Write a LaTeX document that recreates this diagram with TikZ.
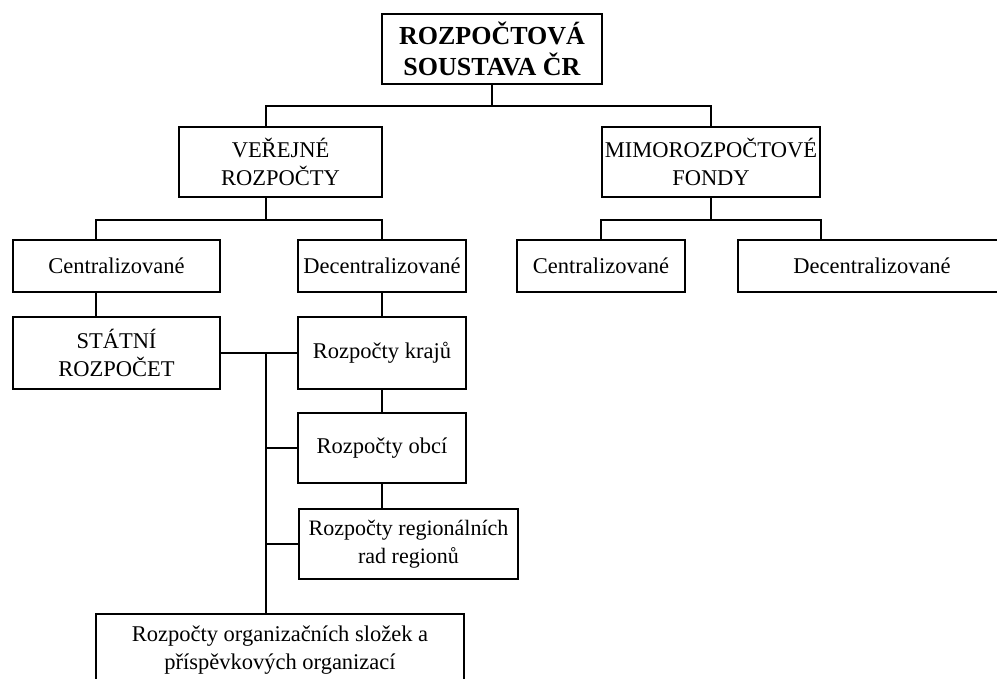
\documentclass[tikz,border=0pt]{standalone}
\usepackage{fontspec}
\setmainfont{Liberation Serif}
\tikzset{
  blok/.style={draw, line width=1.3pt, inner sep=0pt, align=center,
    font=\fontsize{22.5}{28}\selectfont},
  hlavni/.style={blok, font=\fontsize{26}{31}\bfseries\selectfont},
  spoj/.style={line width=1.3pt},
}
\begin{document}
\begin{tikzpicture}[x=1pt, y=-1pt]
  \useasboundingbox (0,0) rectangle (997,679);
  \clip (0,0) rectangle (997,679);
  % uzly
  \node[hlavni, minimum width=220pt, minimum height=70pt] (soustava) at (492,49) {ROZPOČTOVÁ\\SOUSTAVA ČR};
  \node[blok, minimum width=203pt, minimum height=70pt] (verejne) at (280.5,162) {VEŘEJNÉ\\ROZPOČTY};
  \node[blok, minimum width=218pt, minimum height=70pt] (mimo) at (711,162) {MIMOROZPOČTOVÉ\\FONDY};
  \node[blok, minimum width=207pt, minimum height=52pt] (vcent) at (116.5,266) {Centralizované};
  \node[blok, minimum width=168pt, minimum height=52pt] (vdecent) at (382,266) {Decentralizované};
  \node[blok, minimum width=168pt, minimum height=52pt] (mcent) at (601,266) {Centralizované};
  \node[blok, minimum width=268pt, minimum height=52pt] (mdecent) at (872,266) {Decentralizované};
  \node[blok, minimum width=207pt, minimum height=72pt] (statni) at (116.5,353) {STÁTNÍ\\ROZPOČET};
  \node[blok, minimum width=168pt, minimum height=72pt] (kraje) at (382,353) {Rozpočty krajů};
  \node[blok, minimum width=168pt, minimum height=70pt] (obce) at (382,448) {Rozpočty obcí};
  \node[blok, minimum width=219pt, minimum height=70pt, font=\fontsize{22}{28}\selectfont] (regiony) at (408.5,544) {Rozpočty regionálních\\rad regionů};
  \node[blok, minimum width=368pt, minimum height=72pt] (organizace) at (280,650) {Rozpočty organizačních složek a\\příspěvkových organizací};
  % spojnice
  \coordinate (sv) at (266,106);
  \draw[spoj] (soustava.south) -- (soustava.south |- sv);
  \draw[spoj] (sv |- verejne.north) -- (sv) -| (mimo.north);
  \coordinate (sl) at (96,220);
  \draw[spoj] (sv |- verejne.south) -- (sv |- sl);
  \draw[spoj] (sl |- vcent.north) -- (sl) -| (vdecent.north);
  \coordinate (smd) at (821,220);
  \draw[spoj] (mimo.south) -- (mimo.south |- smd);
  \draw[spoj] (mcent.north) |- (smd) -- (smd |- mdecent.north);
  \draw[spoj] (sl |- vcent.south) -- (sl |- statni.north);
  \draw[spoj] (vdecent.south) -- (kraje.north);
  \draw[spoj] (statni) -- (kraje);
  \coordinate (sk) at (266,353);
  \draw[spoj] (sk) -- (sk |- organizace.north);
  \draw[spoj] (sk |- obce.west) -- (obce.west);
  \draw[spoj] (sk |- regiony.west) -- (regiony.west);
  \draw[spoj] (kraje.south) -- (obce.north);
  \draw[spoj] (obce.south) -- (obce.south |- regiony.north);
\end{tikzpicture}
\end{document}
